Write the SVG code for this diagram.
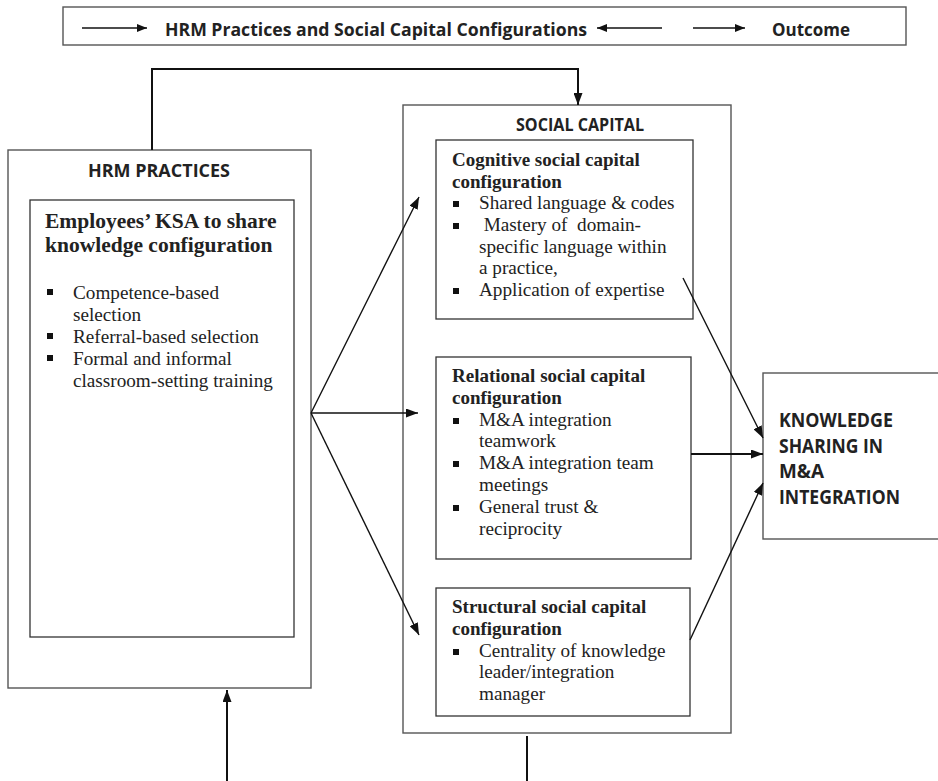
<svg xmlns="http://www.w3.org/2000/svg" width="938" height="781" viewBox="0 0 938 781">
<defs>
<marker id="ah" viewBox="0 0 12 9" refX="12" refY="4.5" markerWidth="12" markerHeight="9" markerUnits="userSpaceOnUse" orient="auto"><path d="M0,0 L12,4.5 L0,9 z" fill="#111"/></marker>
<marker id="ahs" viewBox="0 0 10 8" refX="10" refY="4" markerWidth="10" markerHeight="8" markerUnits="userSpaceOnUse" orient="auto"><path d="M0,0 L10,4 L0,8 z" fill="#111"/></marker>
<style>
.box{fill:none;stroke:#555;stroke-width:1.4}
.ibox{fill:#fff;stroke:#333;stroke-width:1.3}
.conn{fill:none;stroke:#111;stroke-width:1.4}
.thick{fill:none;stroke:#111;stroke-width:2}
.sans{font-family:"Open Sans","Liberation Sans",sans-serif;font-weight:bold;fill:#222}
.st{font-family:"Liberation Serif","Times New Roman",serif;font-weight:bold;font-size:19px;fill:#222}
.bt{font-family:"Liberation Serif","Times New Roman",serif;font-size:19.2px;fill:#222;white-space:pre}
.bul{fill:#111}
</style>
</defs>
<rect width="938" height="781" fill="#fff"/>

<g id="legend">
<rect x="63" y="7" width="843" height="38" class="box"/>
<line x1="82" y1="28" x2="147" y2="28" class="conn" marker-end="url(#ahs)"/>
<text x="165" y="36" class="sans" font-size="18" textLength="422" lengthAdjust="spacingAndGlyphs">HRM Practices and Social Capital Configurations</text>
<line x1="662" y1="28" x2="597" y2="28" class="conn" marker-end="url(#ahs)"/>
<line x1="693" y1="28" x2="745" y2="28" class="conn" marker-end="url(#ahs)"/>
<text x="772" y="36" class="sans" font-size="18" textLength="78" lengthAdjust="spacingAndGlyphs">Outcome</text>
</g>

<g id="hrm">
<rect x="8" y="150" width="303" height="538" class="box"/>
<text x="88" y="177" class="sans" font-size="18" textLength="142" lengthAdjust="spacingAndGlyphs">HRM PRACTICES</text>
</g>

<g id="ksa">
<rect x="30" y="200" width="264" height="437" class="ibox"/>
<text x="45" y="228" class="st" style="font-size:21.5px">Employees’ KSA to share</text>
<text x="45" y="252" class="st" style="font-size:21.5px">knowledge configuration</text>
<rect x="47" y="289" width="6" height="6" class="bul"/>
<text x="73" y="299" class="bt">Competence-based</text>
<text x="73" y="321" class="bt">selection</text>
<rect x="47" y="333" width="6" height="6" class="bul"/>
<text x="73" y="343" class="bt">Referral-based selection</text>
<rect x="47" y="355" width="6" height="6" class="bul"/>
<text x="73" y="365" class="bt">Formal and informal</text>
<text x="73" y="387" class="bt">classroom-setting training</text>
</g>

<g id="social-capital">
<rect x="403" y="105" width="328" height="628" class="box"/>
<text x="516" y="131" class="sans" font-size="17" textLength="128" lengthAdjust="spacingAndGlyphs">SOCIAL CAPITAL</text>
</g>

<g id="cognitive">
<rect x="436" y="140" width="257" height="179" class="ibox"/>
<text x="452" y="166" class="st">Cognitive social capital</text>
<text x="452" y="188" class="st">configuration</text>
<rect x="453" y="201" width="6" height="6" class="bul"/>
<text x="479" y="209" class="bt">Shared language &amp; codes</text>
<rect x="453" y="223" width="6" height="6" class="bul"/>
<text x="479" y="231" class="bt"> Mastery of  domain-</text>
<text x="479" y="253" class="bt">specific language within</text>
<text x="479" y="274" class="bt">a practice,</text>
<rect x="453" y="288" width="6" height="6" class="bul"/>
<text x="479" y="296" class="bt">Application of expertise</text>
</g>

<g id="relational">
<rect x="436" y="357" width="255" height="202" class="ibox"/>
<text x="452" y="382" class="st">Relational social capital</text>
<text x="452" y="404" class="st">configuration</text>
<rect x="453" y="418" width="6" height="6" class="bul"/>
<text x="479" y="426" class="bt">M&amp;A integration</text>
<text x="479" y="447" class="bt">teamwork</text>
<rect x="453" y="461" width="6" height="6" class="bul"/>
<text x="479" y="469" class="bt">M&amp;A integration team</text>
<text x="479" y="491" class="bt">meetings</text>
<rect x="453" y="505" width="6" height="6" class="bul"/>
<text x="479" y="513" class="bt">General trust &amp;</text>
<text x="479" y="535" class="bt">reciprocity</text>
</g>

<g id="structural">
<rect x="436" y="588" width="254" height="128" class="ibox"/>
<text x="452" y="613" class="st">Structural social capital</text>
<text x="452" y="635" class="st">configuration</text>
<rect x="453" y="649" width="6" height="6" class="bul"/>
<text x="479" y="657" class="bt">Centrality of knowledge</text>
<text x="479" y="678" class="bt">leader/integration</text>
<text x="479" y="700" class="bt">manager</text>
</g>

<g id="knowledge-sharing">
<rect x="763" y="373" width="190" height="166" class="box"/>
<text x="779" y="427" class="sans" font-size="19" textLength="114" lengthAdjust="spacingAndGlyphs">KNOWLEDGE</text>
<text x="779" y="453" class="sans" font-size="19" textLength="104" lengthAdjust="spacingAndGlyphs">SHARING IN</text>
<text x="779" y="478" class="sans" font-size="19" textLength="45" lengthAdjust="spacingAndGlyphs">M&amp;A</text>
<text x="779" y="504" class="sans" font-size="19" textLength="121" lengthAdjust="spacingAndGlyphs">INTEGRATION</text>
</g>

<g id="connectors">
<polyline points="152,150 152,69 578,69 578,105" class="thick" marker-end="url(#ah)"/>
<line x1="311" y1="413" x2="419" y2="197" class="conn" marker-end="url(#ah)"/>
<line x1="311" y1="413" x2="418" y2="413" class="conn" marker-end="url(#ah)"/>
<line x1="311" y1="413" x2="419" y2="635" class="conn" marker-end="url(#ah)"/>
<line x1="683" y1="278" x2="763" y2="438" class="conn" marker-end="url(#ah)"/>
<line x1="691" y1="454" x2="763" y2="454" class="thick" marker-end="url(#ah)"/>
<line x1="690" y1="640" x2="763" y2="483" class="conn" marker-end="url(#ah)"/>
<line x1="227" y1="781" x2="227" y2="690" class="thick" marker-end="url(#ah)"/>
<line x1="527" y1="736" x2="527" y2="781" class="thick"/>
</g>
</svg>
